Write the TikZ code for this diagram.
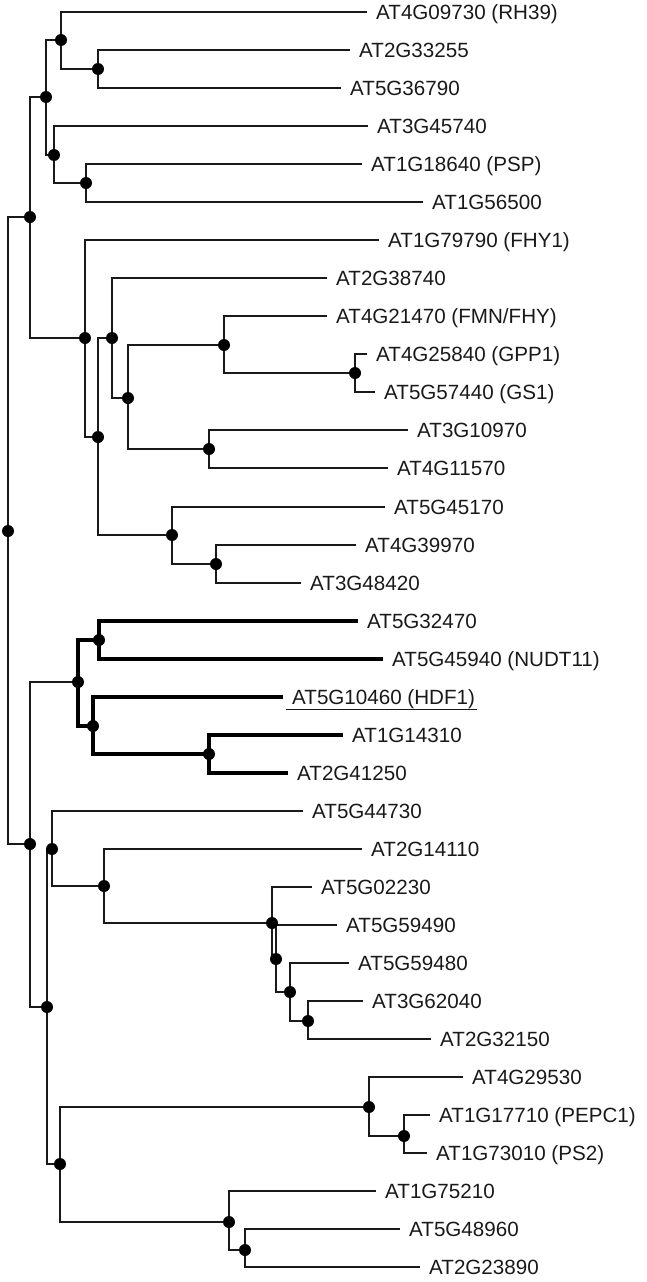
\documentclass[tikz,border=0pt]{standalone}
\usepackage{fontspec}
\setmainfont{Liberation Sans}
\begin{document}
\begin{tikzpicture}[x=1pt,y=-1pt,
  edge/.style={line width=1.9pt, black!90},
  thickedge/.style={line width=3.4pt, black},
  lab/.style={anchor=west, inner xsep=9pt, inner ysep=0pt, text height=14.7pt, text depth=0pt,
              font=\fontsize{20.6}{24}\selectfont, text=black!90},
  dotstyle/.style={fill=black}]
\useasboundingbox (0,0) rectangle (647,1282);
% internal nodes
\coordinate (n0) at (8,531);
\coordinate (nA) at (30,217);
\coordinate (nA1) at (46,97);
\coordinate (nA1a) at (61,40);
\coordinate (nA1a1) at (98,69);
\coordinate (nA1b) at (54,155);
\coordinate (nA1b1) at (86,183);
\coordinate (nA2) at (85,338);
\coordinate (nA2a) at (98,437);
\coordinate (nA2b) at (112,338);
\coordinate (nA2c) at (128,398);
\coordinate (nA2d) at (224,345);
\coordinate (nA2e) at (355,373);
\coordinate (nA2f) at (209,449);
\coordinate (nA2g) at (172,535);
\coordinate (nA2h) at (216,564);
\coordinate (nB) at (30,844);
\coordinate (nB1) at (78,682);
\coordinate (nB1a) at (99,640);
\coordinate (nB1b) at (93,726);
\coordinate (nB1c) at (209,754);
\coordinate (nB2) at (47,1007);
\coordinate (nB2a) at (52,849);
\coordinate (nB2b) at (104,886);
\coordinate (nB2c) at (272,923);
\coordinate (nB2d) at (276,959);
\coordinate (nB2e) at (290,992);
\coordinate (nB2f) at (308,1021);
\coordinate (nB3) at (60,1164);
\coordinate (nB3a) at (369,1107);
\coordinate (nB3b) at (404,1136);
\coordinate (nB3c) at (229,1222);
\coordinate (nB3d) at (245,1250);
% leaf labels
\node[lab] (l1) at (367,12) {AT4G09730 (RH39)};
\node[lab] (l2) at (350,50) {AT2G33255};
\node[lab] (l3) at (341,88) {AT5G36790};
\node[lab] (l4) at (368,126) {AT3G45740};
\node[lab] (l5) at (362,164) {AT1G18640 (PSP)};
\node[lab] (l6) at (423,202) {AT1G56500};
\node[lab] (l7) at (379,240) {AT1G79790 (FHY1)};
\node[lab] (l8) at (327,278) {AT2G38740};
\node[lab] (l9) at (327,316) {AT4G21470 (FMN/FHY)};
\node[lab] (l10) at (367,354) {AT4G25840 (GPP1)};
\node[lab] (l11) at (375,392) {AT5G57440 (GS1)};
\node[lab] (l12) at (408,430) {AT3G10970};
\node[lab] (l13) at (388,468) {AT4G11570};
\node[lab] (l14) at (385,507) {AT5G45170};
\node[lab] (l15) at (356,545) {AT4G39970};
\node[lab] (l16) at (301,583) {AT3G48420};
\node[lab] (l17) at (358,621) {AT5G32470};
\node[lab] (l18) at (383,659) {AT5G45940 (NUDT11)};
\node[lab] (l19) at (283,697) {AT5G10460 (HDF1)};
\node[lab] (l20) at (343,735) {AT1G14310};
\node[lab] (l21) at (288,773) {AT2G41250};
\node[lab] (l22) at (303,811) {AT5G44730};
\node[lab] (l23) at (362,849) {AT2G14110};
\node[lab] (l24) at (312,887) {AT5G02230};
\node[lab] (l25) at (337,925) {AT5G59490};
\node[lab] (l26) at (349,963) {AT5G59480};
\node[lab] (l27) at (363,1001) {AT3G62040};
\node[lab] (l28) at (431,1039) {AT2G32150};
\node[lab] (l29) at (463,1077) {AT4G29530};
\node[lab] (l30) at (430,1115) {AT1G17710 (PEPC1)};
\node[lab] (l31) at (427,1153) {AT1G73010 (PS2)};
\node[lab] (l32) at (376,1191) {AT1G75210};
\node[lab] (l33) at (400,1229) {AT5G48960};
\node[lab] (l34) at (420,1267) {AT2G23890};
% underline of HDF1
\draw[line width=1.5pt, black!90] ([shift={(3pt,-5pt)}]l19.base west) -- ([shift={(-7pt,-5pt)}]l19.base east);
% edges
\draw[edge] (n0) |- (nA);
\draw[edge] (n0) |- (nB);
\draw[edge] (nA) |- (nA1);
\draw[edge] (nA) |- (nA2);
\draw[edge] (nA1) |- (nA1a);
\draw[edge] (nA1) |- (nA1b);
\draw[edge] (nA1a) |- (l1.west);
\draw[edge] (nA1a) |- (nA1a1);
\draw[edge] (nA1a1) |- (l2.west);
\draw[edge] (nA1a1) |- (l3.west);
\draw[edge] (nA1b) |- (l4.west);
\draw[edge] (nA1b) |- (nA1b1);
\draw[edge] (nA1b1) |- (l5.west);
\draw[edge] (nA1b1) |- (l6.west);
\draw[edge] (nA2) |- (l7.west);
\draw[edge] (nA2) |- (nA2a);
\draw[edge] (nA2a) |- (nA2b);
\draw[edge] (nA2a) |- (nA2g);
\draw[edge] (nA2b) |- (l8.west);
\draw[edge] (nA2b) |- (nA2c);
\draw[edge] (nA2c) |- (nA2d);
\draw[edge] (nA2c) |- (nA2f);
\draw[edge] (nA2d) |- (l9.west);
\draw[edge] (nA2d) |- (nA2e);
\draw[edge] (nA2e) |- (l10.west);
\draw[edge] (nA2e) |- (l11.west);
\draw[edge] (nA2f) |- (l12.west);
\draw[edge] (nA2f) |- (l13.west);
\draw[edge] (nA2g) |- (l14.west);
\draw[edge] (nA2g) |- (nA2h);
\draw[edge] (nA2h) |- (l15.west);
\draw[edge] (nA2h) |- (l16.west);
\draw[edge] (nB) |- (nB1);
\draw[edge] (nB) |- (nB2);
\draw[thickedge] (nB1) |- (nB1a);
\draw[thickedge] (nB1) |- (nB1b);
\draw[thickedge] (nB1a) |- (l17.west);
\draw[thickedge] (nB1a) |- (l18.west);
\draw[thickedge] (nB1b) |- (l19.west);
\draw[thickedge] (nB1b) |- (nB1c);
\draw[thickedge] (nB1c) |- (l20.west);
\draw[thickedge] (nB1c) |- (l21.west);
\draw[edge] (nB2) |- (nB2a);
\draw[edge] (nB2) |- (nB3);
\draw[edge] (nB2a) |- (l22.west);
\draw[edge] (nB2a) |- (nB2b);
\draw[edge] (nB2b) |- (l23.west);
\draw[edge] (nB2b) |- (nB2c);
\draw[edge] (nB2c) |- (l24.west);
\draw[edge] (nB2c) |- (nB2d);
\draw[edge] (nB2d) |- (l25.west);
\draw[edge] (nB2d) |- (nB2e);
\draw[edge] (nB2e) |- (l26.west);
\draw[edge] (nB2e) |- (nB2f);
\draw[edge] (nB2f) |- (l27.west);
\draw[edge] (nB2f) |- (l28.west);
\draw[edge] (nB3) |- (nB3a);
\draw[edge] (nB3) |- (nB3c);
\draw[edge] (nB3a) |- (l29.west);
\draw[edge] (nB3a) |- (nB3b);
\draw[edge] (nB3b) |- (l30.west);
\draw[edge] (nB3b) |- (l31.west);
\draw[edge] (nB3c) |- (l32.west);
\draw[edge] (nB3c) |- (nB3d);
\draw[edge] (nB3d) |- (l33.west);
\draw[edge] (nB3d) |- (l34.west);
% dots
\foreach \n in {n0,nA,nA1,nA1a,nA1a1,nA1b,nA1b1,nA2,nA2a,nA2b,nA2c,nA2d,nA2e,nA2f,nA2g,nA2h,
  nB,nB1,nB1a,nB1b,nB1c,nB2,nB2a,nB2b,nB2c,nB2d,nB2e,nB2f,nB3,nB3a,nB3b,nB3c,nB3d}
  \fill[dotstyle] (\n) circle (6pt);
\end{tikzpicture}
\end{document}
